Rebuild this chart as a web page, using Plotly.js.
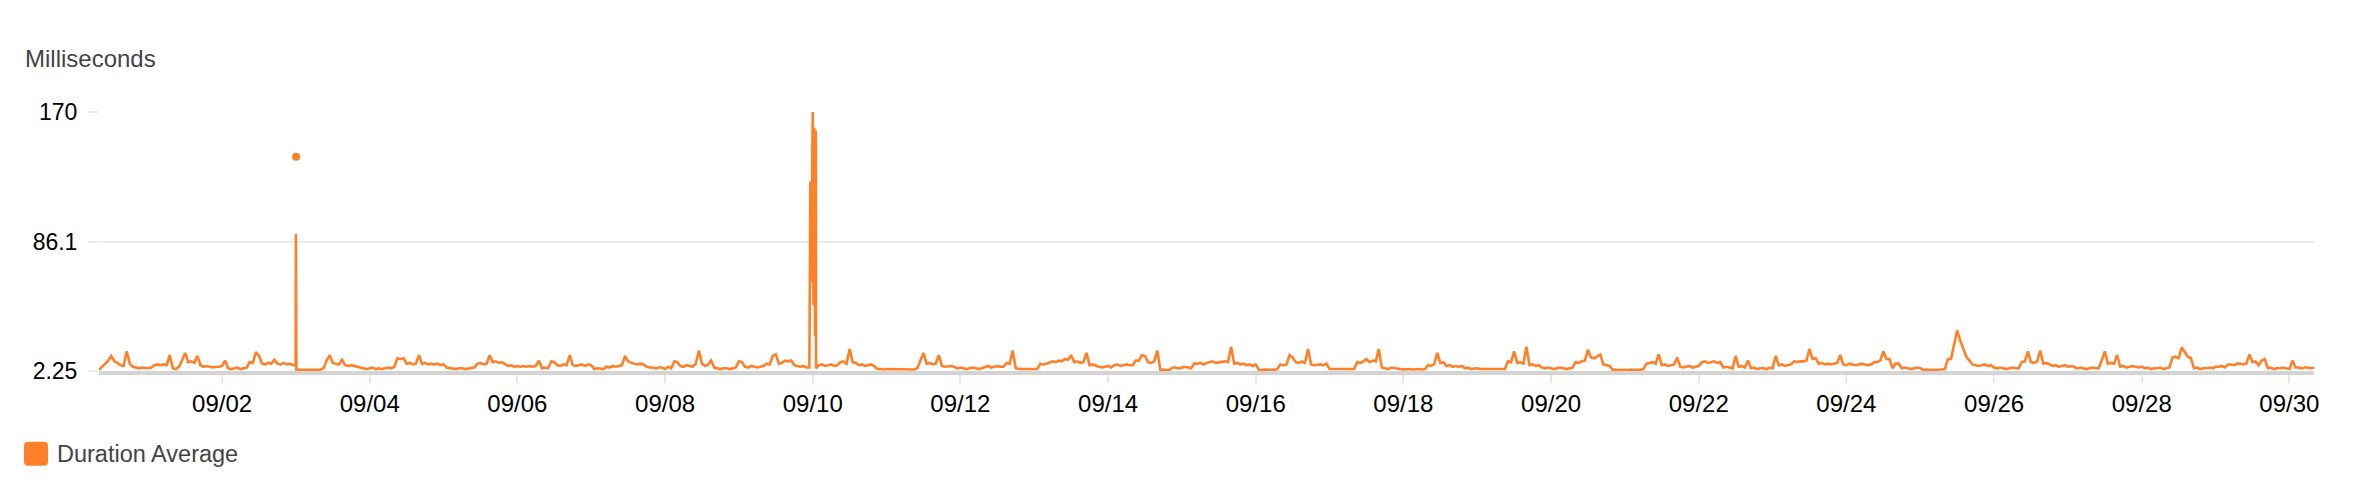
<!DOCTYPE html>
<html>
<head>
<meta charset="utf-8">
<script src="https://cdn.plot.ly/plotly-3.0.1.min.js"></script>
<style>
html, body { margin: 0; padding: 0; background: #ffffff; }
#chart { width: 2356px; height: 500px; }
</style>
</head>
<body>
<div id="chart"></div>
<script>
// ---------------- DATA ----------------
const seriesName = 'Duration Average';
const yAxisLabel = 'Milliseconds';
const seriesStartUTC = [2023, 7, 31, 8, 0];   // 2023-08-31 08:00, hourly samples
const yTickValues = [2.25, 86.1, 170];
const yTickLabels = ['2.25', '86.1', '170'];

// hourly averages (ms), 08/31 08:00 -> 09/30 08:00
const hours000 = [
  3, 5, 7.5, 9, 12, 8.5, 7.5, 6, 5.5, 15, 7, 5, 4.5, 4, 4.5, 4, 4, 4.5, 6, 6.5, 6, 6.5, 6, 12.5,
  4, 3.5, 5, 9, 14, 8, 8.5, 7.5, 12, 6, 5, 5.5, 5, 4.5, 5, 5, 5.5, 9, 4, 3.5, 4, 4.5, 3.5, 4,
  4.5, 8, 7.5, 14.5, 12, 7, 6.5, 7.5, 7, 9.5, 7, 6.5, 7.5, 6.5, 7, 6, 91, 3, 2.8, 3, 3, 2.9, 3, 3,
  3.2, 4, 9, 12.5, 7.5, 7, 6.5, 9.5, 6, 5.5, 6, 5.5, 5, 4.5, 4, 3.5, 4, 4.5, 3.5, 4, 3.5, 4, 4.5, 4,
  5, 10.5, 10, 10.5, 7, 7.5, 6.5, 7, 12.5, 7, 7.5, 6.5, 7, 6.5, 7, 6, 6.5, 4.5, 4, 4, 3.5, 4, 4, 3.5
];
const hours120 = [
  4, 4, 4.5, 7, 7.5, 6.5, 7, 12.5, 8, 8.5, 7.5, 8, 7, 5.5, 6, 5, 5.5, 5, 5.5, 5, 5.5, 5, 5.5, 9,
  4, 4.5, 4, 8.5, 8, 6, 5.5, 6.5, 6, 12.5, 6, 5.5, 6, 6.5, 5.5, 6.5, 6, 3.5, 4, 3.5, 3.5, 5, 4.5, 5.5,
  5, 5.5, 6, 12, 8.5, 7.5, 7, 6.5, 7, 6.5, 5, 4.5, 4.5, 4, 4.5, 4.5, 3.5, 5, 4, 8.5, 8, 5.5, 5, 6,
  5.5, 5, 7, 15.5, 7, 5.5, 6.5, 9, 4.5, 4, 3.5, 4, 4, 3.5, 4, 4.5, 8.5, 8, 5, 4.5, 5.5, 5, 4.5, 5,
  5.5, 7, 6.5, 12, 13, 7, 7.5, 9, 8.5, 9, 6, 5.5, 5, 5.5, 4.5, 56, 170, 158, 6, 6.5, 5.5, 6, 6.5, 5.5
];
const hours240 = [
  6, 8, 8.5, 7, 16.5, 8, 7.5, 6, 6.5, 5.5, 6, 6.5, 5.5, 3.5, 3.5, 3.2, 3.5, 3.5, 3.2, 3.5, 3.5, 3.2, 3.5, 3.5,
  3.5, 3.2, 4, 9, 14, 7, 7.5, 6.5, 7, 12.5, 5.5, 5, 5.5, 5.5, 5, 4, 4.5, 4, 3.5, 4, 4.5, 4, 3.5, 4,
  5, 5.5, 4.5, 5, 5.5, 5, 5, 7.5, 7, 15.5, 4, 3.5, 3.5, 3.2, 3.5, 3.5, 3.2, 3.5, 7, 6.5, 7, 7.5, 8.5, 8,
  9, 8.5, 10, 9.5, 12.5, 8, 8.5, 7.5, 8, 14, 6, 6.5, 5.5, 5, 4.5, 5, 5.5, 4.5, 6, 6.5, 5.5, 6, 6.5, 6,
  6, 9, 9, 12.5, 12, 8, 7.5, 8.5, 15.5, 3, 3.2, 2.8, 3, 4.5, 4.5, 4, 4.5, 5, 4.5, 4, 7, 7, 7.5, 6.5
];
const hours360 = [
  7.5, 8, 8.5, 7.5, 8, 8.5, 8.5, 8, 18, 7, 7.5, 6.5, 7, 6, 6.5, 5.5, 6.5, 3, 2.8, 3.2, 3, 2.8, 3, 3.5,
  6.5, 6, 6.5, 12.5, 11, 8, 7.5, 8.5, 7.5, 16.5, 6.5, 6, 6.5, 6.5, 6, 7, 3.5, 3.5, 3.2, 3.5, 3.5, 3.2, 3.5, 3.5,
  3.5, 8, 7.5, 8.5, 10, 8, 9, 8.5, 16.5, 4.5, 4, 3.5, 4.5, 4, 3.5, 3.5, 3.2, 3.5, 3.5, 3.2, 3.5, 3.5, 3.2, 3.5,
  6, 5.5, 6.5, 14, 7.5, 8, 5.5, 6, 5, 5.5, 5, 5.5, 4, 4.5, 3.5, 4, 4, 3.5, 3.5, 3.2, 3.5, 3.5, 3.2, 3.5,
  3.5, 3.5, 8.5, 8, 15, 7.5, 8, 7, 18, 6, 6.5, 5.5, 6, 4.5, 4, 4.5, 4, 3.5, 4, 4.5, 4, 3.5, 4, 4.5
];
const hours480 = [
  8, 7.5, 8.5, 9, 16, 11, 10.5, 11.5, 13, 6.5, 6, 5.5, 3, 3.2, 2.8, 3, 3, 2.8, 3.2, 3, 2.8, 3, 3.5, 7,
  7.5, 8, 7, 13, 6, 6.5, 5.5, 6, 6.5, 11, 5, 4.5, 5, 5.5, 4.5, 5, 5.5, 8, 8.5, 7.5, 8, 8.5, 7.5, 8,
  4.5, 5, 4.5, 4, 12, 5, 5.5, 4.5, 9, 4, 4.5, 3.5, 4, 4, 3.5, 4.5, 4, 12, 6, 6.5, 5.5, 6, 6.5, 8.5,
  8, 8.5, 8.5, 9, 16.5, 10, 10.5, 7, 7.5, 6.5, 7, 6.5, 7, 7.5, 12.5, 6.5, 6, 7, 6.5, 6, 6.5, 7, 6.5, 6,
  6.5, 8, 8, 9, 15, 10, 10, 4, 7, 7, 4, 4.5, 4, 3.5, 4, 4.5, 4, 3, 3.2, 2.8, 3, 3, 2.8, 3.2
];
const hours600 = [
  3.5, 10, 10, 20, 28.5, 22, 16, 11.5, 9, 6.5, 6, 5.5, 6, 6.5, 5.5, 6, 4.5, 4, 4.5, 4, 3.5, 4, 4.5, 4,
  4, 8, 8.5, 15, 8, 7.5, 8.5, 15.5, 7, 7.5, 6.5, 5.5, 6, 5, 5.5, 6, 5, 5.5, 5, 4, 4.5, 4, 3.5, 4,
  4.5, 4, 4, 9, 15, 7, 7.5, 7, 12.5, 5, 5.5, 4.5, 5, 5.5, 5, 4.5, 5, 4, 4.5, 3.5, 4, 4, 4.5, 3.5,
  4, 4.5, 11, 11.5, 10.5, 17.5, 14.5, 11.5, 10.5, 4, 4.5, 3.5, 4, 4, 4.5, 4, 5, 5, 5.5, 4.5, 6.5, 6.5, 6, 7,
  7, 6.5, 7, 13, 8, 8.5, 6, 9, 10, 4, 4.5, 3.5, 4, 4, 4.5, 4, 3.5, 9, 4.5, 4.5, 4, 4.5, 4.5, 4, 4.5
];

// sub-hour samples around the two big spikes
const extraTimes  = [
  '2023-09-02 23:55', '2023-09-03 00:10',
  '2023-09-09 22:55', '2023-09-09 23:15', '2023-09-09 23:30', '2023-09-09 23:45',
  '2023-09-10 00:15', '2023-09-10 00:30', '2023-09-10 00:45', '2023-09-10 01:05'
];
const extraValues = [
  6, 3,
  4.5, 125, 60, 165,
  45, 160, 25, 4
];

// isolated single sample (drawn as a dot)
const isolatedTimes  = ['2023-09-03 00:05'];
const isolatedValues = [141];

// ---------------- BUILD ----------------
const ORANGE = '#ff8029';
const FONT = 'Liberation Sans, Arial, Helvetica, sans-serif';

const hourly = [].concat(hours000, hours120, hours240, hours360, hours480, hours600);
const startMs = Date.UTC.apply(null, seriesStartUTC);
function fmt(ms) { return new Date(ms).toISOString().slice(0, 16).replace('T', ' '); }

let pts = hourly.map((v, i) => ({ t: fmt(startMs + i * 3600000), v: v }));
extraTimes.forEach((t, i) => pts.push({ t: t, v: extraValues[i] }));
pts.sort((a, b) => (a.t < b.t ? -1 : a.t > b.t ? 1 : 0));

const xStart = fmt(startMs);
const xEnd = fmt(startMs + (hourly.length - 1) * 3600000);

// layout geometry (pixels)
const W = 2356, H = 500;
const L = 99, R = 42, T = 112, B = 129;
const plotW = W - L - R, plotH = H - T - B;
const px2x = px => (px - L) / plotW;
const px2y = py => (H - B - py) / plotH;

const traces = [
  {
    type: 'scatter', mode: 'lines', name: seriesName,
    x: pts.map(p => p.t), y: pts.map(p => p.v),
    line: { color: ORANGE, width: 2.6 },
    showlegend: false, hoverinfo: 'skip'
  },
  {
    type: 'scatter', mode: 'markers', name: seriesName,
    x: isolatedTimes, y: isolatedValues,
    marker: { color: ORANGE, size: 8 },
    showlegend: false, hoverinfo: 'skip', cliponaxis: false
  }
];

const layout = {
  width: W, height: H,
  margin: { l: L, r: R, t: T, b: B, pad: 0 },
  paper_bgcolor: '#ffffff', plot_bgcolor: '#ffffff',
  font: { family: FONT, color: '#000000', size: 24 },
  showlegend: false,
  xaxis: {
    type: 'date',
    range: [xStart, xEnd],
    tickmode: 'linear', tick0: '2023-09-02', dtick: 2 * 86400000,
    tickformat: '%m/%d',
    showgrid: false, zeroline: false,
    showline: true, linecolor: '#d4d4d4', linewidth: 4,
    ticks: 'outside', ticklen: 8, tickwidth: 2, tickcolor: '#e6e6e6',
    tickfont: { family: FONT, size: 24, color: '#000000' },
    fixedrange: true
  },
  yaxis: {
    range: [yTickValues[0], yTickValues[yTickValues.length - 1]],
    tickmode: 'array', tickvals: yTickValues, ticktext: yTickLabels,
    showgrid: true, gridcolor: '#ebebeb', gridwidth: 2,
    zeroline: false, showline: false,
    ticks: 'outside', ticklen: 10, tickwidth: 2, tickcolor: '#ebebeb',
    ticklabelstandoff: 6,
    tickfont: { family: FONT, size: 23, color: '#000000' },
    fixedrange: true
  },
  shapes: [
    {
      type: 'path', xref: 'paper', yref: 'paper',
      xsizemode: 'pixel', ysizemode: 'pixel',
      xanchor: px2x(36), yanchor: px2y(453.7),
      path: 'M -8,-12 L 8,-12 Q 12,-12 12,-8 L 12,8 Q 12,12 8,12 L -8,12 Q -12,12 -12,8 L -12,-8 Q -12,-12 -8,-12 Z',
      fillcolor: ORANGE, line: { width: 0 }
    }
  ],
  annotations: [
    {
      text: yAxisLabel, xref: 'paper', yref: 'paper',
      x: px2x(23), y: px2y(59), xanchor: 'left', yanchor: 'middle',
      showarrow: false, font: { family: FONT, size: 24, color: '#444444' }
    },
    {
      text: seriesName, xref: 'paper', yref: 'paper',
      x: px2x(55), y: px2y(454), xanchor: 'left', yanchor: 'middle',
      showarrow: false, font: { family: FONT, size: 23.5, color: '#444444' }
    }
  ]
};

Plotly.newPlot('chart', traces, layout, { staticPlot: true, displayModeBar: false });
</script>
</body>
</html>
